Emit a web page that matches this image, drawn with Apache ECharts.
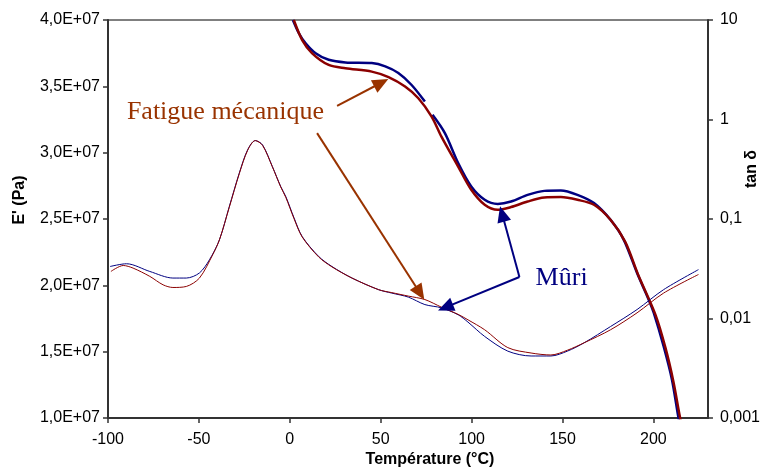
<!DOCTYPE html>
<html>
<head>
<meta charset="utf-8">
<title>E' et tan δ</title>
<script src="https://cdn.jsdelivr.net/npm/echarts@6/dist/echarts.min.js"></script>
<style>
  html, body { margin: 0; padding: 0; background: #fff; }
  #chart { width: 763px; height: 468px; }
</style>
</head>
<body>
<div id="chart"></div>
<script>
// E' (Pa) - Mûri (bleu), la coupure vers 76 °C est dans l'original
const tMuriE = [1.7, 5.0, 8.7, 14.2, 21.4, 30.6, 45.1, 52.5, 59.7, 67.0, 74.3, 76.5, 78.5, 85.3, 92.6, 99.8, 107.2, 114.4, 121.7, 130.8, 140.0, 149.1, 158.2, 167.3, 176.4, 183.7, 191.0, 197.4, 200.2, 205.6, 210.2, 213.8, 215.0]
const eMuri = [4.00e7, 3.90e7, 3.825e7, 3.75e7, 3.70e7, 3.68e7, 3.675e7, 3.65e7, 3.60e7, 3.51e7, 3.385e7, null, 3.285e7, 3.147e7, 2.921e7, 2.745e7, 2.645e7, 2.614e7, 2.632e7, 2.682e7, 2.712e7, 2.715e7, 2.682e7, 2.620e7, 2.494e7, 2.343e7, 2.093e7, 1.892e7, 1.792e7, 1.541e7, 1.289e7, 1.0e7, 0.93e7]

// E' (Pa) - Fatigue mécanique (rouge)
const tFatE = [2.2, 6.8, 12.3, 21.4, 30.6, 45.1, 54.3, 63.4, 70.7, 78.0, 83.4, 92.6, 99.8, 107.2, 114.4, 121.7, 130.8, 140.0, 149.1, 158.2, 167.3, 176.4, 184.5, 191.6, 201.1, 206.6, 211.0, 214.7, 216.0]
const eFat = [4.00e7, 3.849e7, 3.749e7, 3.661e7, 3.636e7, 3.611e7, 3.569e7, 3.498e7, 3.410e7, 3.272e7, 3.121e7, 2.895e7, 2.720e7, 2.607e7, 2.569e7, 2.590e7, 2.632e7, 2.662e7, 2.665e7, 2.645e7, 2.607e7, 2.494e7, 2.328e7, 2.080e7, 1.779e7, 1.530e7, 1.274e7, 1.0e7, 0.93e7]

// tan δ - Mûri
const tMuriTan = [-98.9, -89.8, -77.0, -64.3, -56.9, -49.7, -44.2, -38.7, -33.3, -27.8, -23.2, -19.0, -15.0, -9.6, -5.0, -2.2, 2.3, 6.8, 15.9, 23.2, 34.2, 48.8, 56.1, 65.2, 74.3, 83.4, 92.6, 98.0, 107.2, 119.9, 132.7, 143.6, 152.7, 161.9, 176.4, 191.0, 205.6, 224.8]
const tanMuri = [0.0333, 0.0355, 0.0297, 0.0255, 0.0255, 0.0287, 0.0389, 0.0618, 0.133, 0.289, 0.496, 0.614, 0.556, 0.337, 0.212, 0.168, 0.103, 0.0667, 0.0420, 0.0333, 0.0255, 0.0195, 0.0180, 0.0164, 0.0138, 0.0128, 0.0109, 0.0092, 0.0066, 0.0047, 0.0042, 0.0042, 0.0047, 0.0057, 0.0083, 0.0123, 0.0195, 0.0310]

// tan δ - Fatigue mécanique
const tFatTan = [-98.4, -91.6, -86.2, -77.0, -69.7, -64.3, -56.9, -49.7, -42.4, -38.7, -33.3, -27.8, -23.2, -19.0, -15.0, -9.6, -5.0, -2.2, 2.3, 6.8, 15.9, 23.2, 34.2, 48.8, 56.1, 65.2, 74.3, 83.4, 92.6, 98.0, 107.2, 119.9, 132.7, 143.6, 152.7, 161.9, 176.4, 191.0, 205.6, 224.8]
const tanFat = [0.0297, 0.0341, 0.0321, 0.0265, 0.0218, 0.0205, 0.0210, 0.0255, 0.0438, 0.0618, 0.131, 0.285, 0.490, 0.614, 0.550, 0.335, 0.210, 0.165, 0.101, 0.0660, 0.0415, 0.0330, 0.0255, 0.0195, 0.0182, 0.0168, 0.0155, 0.0130, 0.0110, 0.0097, 0.0077, 0.0051, 0.0045, 0.0043, 0.0048, 0.0057, 0.0077, 0.0114, 0.0180, 0.0277]

// annotations (coordonnées en °C / Pa)
const fatigueArrows = [[[26.0, 3.352e7], [50.3, 3.527e7]], [[15.0, 3.147e7], [71.6, 1.942e7]]]
const muriArrows = [[[126.3, 2.0625e7], [116.8, 2.538e7]], [[126.3, 2.0625e7], [85.6, 1.834e7]]]
const fatigueLabel = [-35.4, 3.307e7]
const muriLabel = [149.5, 2.057e7]

const colMuri = '#000080'
const colFat = '#8b0000'
const colNoteFat = '#993300'

function zip(xs, ys) {
  return xs.map((x, i) => [x, ys[i] === null ? '-' : ys[i]])
}

function arrows(list) {
  return list.map(a => [{ coord: a[0] }, { coord: a[1] }])
}

const chart = echarts.init(document.getElementById('chart'))
const tickFont = { fontFamily: 'Liberation Sans, Arial', fontSize: 16, color: '#000' }

const option = {
  animation: false,
  grid: {
    left: 108, right: 51, top: 20, bottom: 50,
    show: true, borderColor: '#000', borderWidth: 1, backgroundColor: 'transparent'
  },
  xAxis: {
    type: 'value',
    min: -100, max: 230, interval: 50,
    axisLine: { onZero: false, lineStyle: { color: '#333', width: 2 } },
    axisTick: { length: 5, lineStyle: { color: '#333', width: 1.5 } },
    axisLabel: Object.assign({ margin: 14, showMaxLabel: false }, tickFont),
    splitLine: { show: false }
  },
  yAxis: [{
    type: 'value',
    min: 1e7, max: 4e7, interval: 5e6,
    position: 'left',
    axisLine: { show: true, onZero: false, lineStyle: { color: '#333', width: 2 } },
    axisTick: { show: true, length: 5, lineStyle: { color: '#333', width: 1.5 } },
    axisLabel: Object.assign({
      margin: 8,
      formatter: v => (v / 1e7).toFixed(1).replace('.', ',') + 'E+07'
    }, tickFont),
    splitLine: { show: false }
  }, {
    type: 'log',
    logBase: 10,
    min: 0.001, max: 10,
    position: 'right',
    axisLine: { show: true, onZero: false, lineStyle: { color: '#333', width: 2 } },
    axisTick: { show: true, length: 5, lineStyle: { color: '#333', width: 1.5 } },
    axisLabel: Object.assign({
      margin: 12,
      formatter: v => String(Number(v.toPrecision(3))).replace('.', ',')
    }, tickFont),
    splitLine: { show: false }
  }],
  series: [{
    name: "E' Mûri",
    type: 'line',
    yAxisIndex: 0,
    data: zip(tMuriE, eMuri),
    showSymbol: false,
    smooth: 0.3,
    lineStyle: { color: colMuri, width: 2.5 },
    markLine: {
      silent: true,
      symbol: ['none', 'triangle'],
      symbolSize: [14, 16],
      label: { show: false },
      lineStyle: { color: colMuri, width: 2, type: 'solid' },
      data: arrows(muriArrows)
    }
  }, {
    name: "E' Fatigue mécanique",
    type: 'line',
    yAxisIndex: 0,
    data: zip(tFatE, eFat),
    showSymbol: false,
    smooth: 0.3,
    lineStyle: { color: colFat, width: 2.5 },
    markLine: {
      silent: true,
      symbol: ['none', 'triangle'],
      symbolSize: [14, 16],
      label: { show: false },
      lineStyle: { color: colNoteFat, width: 2, type: 'solid' },
      data: arrows(fatigueArrows)
    }
  }, {
    name: 'tan δ Mûri',
    type: 'line',
    yAxisIndex: 1,
    data: zip(tMuriTan, tanMuri),
    showSymbol: false,
    smooth: 0.3,
    lineStyle: { color: colMuri, width: 1 }
  }, {
    name: 'tan δ Fatigue mécanique',
    type: 'line',
    yAxisIndex: 1,
    data: zip(tFatTan, tanFat),
    showSymbol: false,
    smooth: 0.3,
    lineStyle: { color: colFat, width: 1 }
  }]
}
chart.setOption(option)

// textes : titres des axes et étiquettes des courbes
const pFat = chart.convertToPixel({ xAxisIndex: 0, yAxisIndex: 0 }, fatigueLabel)
const pMuri = chart.convertToPixel({ xAxisIndex: 0, yAxisIndex: 0 }, muriLabel)
const axisFont = 'bold 16px "Liberation Sans", Arial'
const noteFont = '26px "Liberation Serif", "Times New Roman", serif'

chart.setOption({
  graphic: [
    { type: 'text', x: 20, y: 200, rotation: Math.PI / 2,
      style: { text: "E' (Pa)", font: axisFont, fill: '#000', align: 'center', verticalAlign: 'middle' } },
    { type: 'text', x: 752, y: 169, rotation: Math.PI / 2,
      style: { text: 'tan δ', font: axisFont, fill: '#000', align: 'center', verticalAlign: 'middle' } },
    { type: 'text', x: 430, y: 460,
      style: { text: 'Température (°C)', font: axisFont, fill: '#000', align: 'center', verticalAlign: 'middle' } },
    { type: 'text', x: pFat[0], y: pFat[1],
      style: { text: 'Fatigue mécanique', font: noteFont, fill: colNoteFat, align: 'center', verticalAlign: 'middle' } },
    { type: 'text', x: pMuri[0], y: pMuri[1],
      style: { text: 'Mûri', font: noteFont, fill: colMuri, align: 'center', verticalAlign: 'middle' } }
  ]
})
</script>
</body>
</html>
